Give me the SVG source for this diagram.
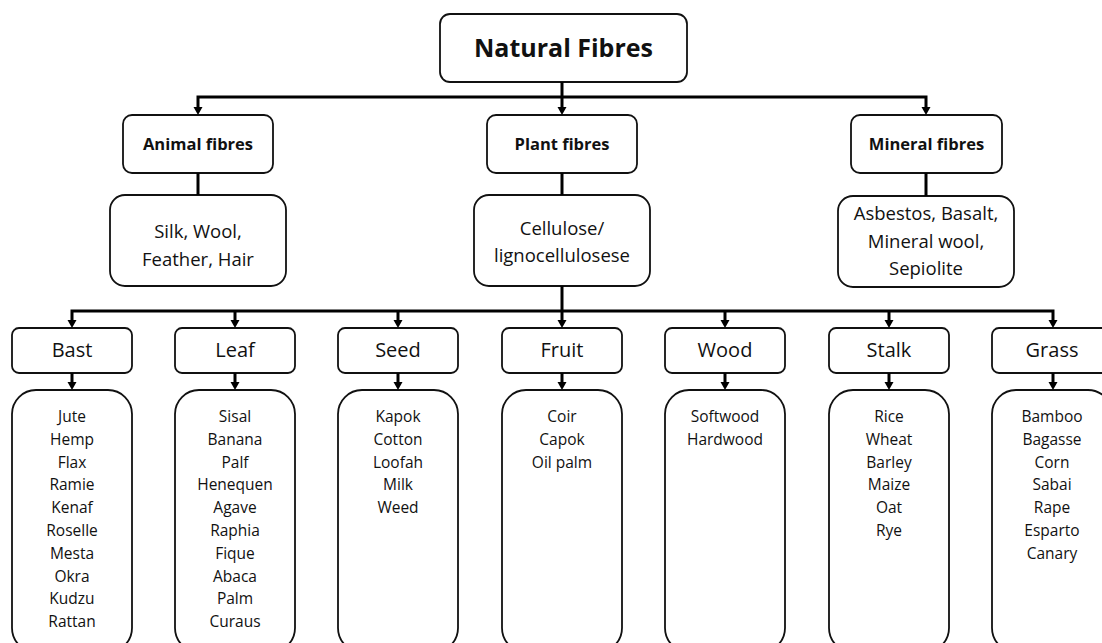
<svg xmlns="http://www.w3.org/2000/svg" width="1102" height="643" viewBox="0 0 1102 643">
  <style>
    .box { fill: #fff; stroke: #111; stroke-width: 1.8; }
    .wire { fill: none; stroke: #000; stroke-width: 3; }
    .arrow { marker-end: url(#head); }
    text { font-family: "Open Sans", "Liberation Sans", sans-serif; fill: #111; text-anchor: middle; }
    .title { font-size: 25px; font-weight: bold; }
    .group { font-size: 16.5px; font-weight: bold; }
    .desc { font-size: 18.5px; }
    .cat { font-size: 20px; }
    .item { font-size: 15.5px; }
  </style>
  <defs>
    <!-- solid triangular head; the path ends at its base, the tip sits 7.5px further on -->
    <marker id="head" markerUnits="userSpaceOnUse" markerWidth="10" markerHeight="10" refX="0.5" refY="5" orient="auto" viewBox="0 0 10 10">
      <path d="M0,0.5 L8,5 L0,9.5 Z" fill="#000"/>
    </marker>
  </defs>

  <!-- root -->
  <g id="natural-fibres">
    <rect class="box" x="440" y="14" width="247" height="68" rx="10"/>
    <text class="title" x="563.5" y="57">Natural Fibres</text>
  </g>

  <!-- second level -->
  <g id="animal-fibres">
    <rect class="box" x="123" y="115" width="150" height="58" rx="9"/>
    <text class="group" x="198" y="150">Animal fibres</text>
  </g>
  <g id="plant-fibres">
    <rect class="box" x="487" y="115" width="150" height="58" rx="9"/>
    <text class="group" x="562" y="150">Plant fibres</text>
  </g>
  <g id="mineral-fibres">
    <rect class="box" x="851" y="115" width="151" height="58" rx="9"/>
    <text class="group" x="926.5" y="150">Mineral fibres</text>
  </g>

  <g id="animal-examples">
    <rect class="box" x="110" y="195" width="176" height="91" rx="15"/>
    <text class="desc" x="198" y="238">Silk, Wool,</text>
    <text class="desc" x="198" y="266">Feather, Hair</text>
  </g>
  <g id="plant-examples">
    <rect class="box" x="474" y="195" width="176" height="91" rx="15"/>
    <text class="desc" x="562" y="235">Cellulose/</text>
    <text class="desc" x="562" y="262">lignocellulosese</text>
  </g>
  <g id="mineral-examples">
    <rect class="box" x="838" y="196" width="176" height="91" rx="15"/>
    <text class="desc" x="926" y="220">Asbestos, Basalt,</text>
    <text class="desc" x="926" y="248">Mineral wool,</text>
    <text class="desc" x="926" y="275">Sepiolite</text>
  </g>

  <!-- plant fibre categories -->
  <g id="bast">
    <rect class="box" x="12" y="328" width="120" height="45" rx="7"/>
    <text class="cat" x="72" y="357">Bast</text>
    <rect class="box" x="12" y="390" width="120" height="262" rx="24"/>
    <text class="item" x="72" y="422">Jute</text>
    <text class="item" x="72" y="445">Hemp</text>
    <text class="item" x="72" y="468">Flax</text>
    <text class="item" x="72" y="490">Ramie</text>
    <text class="item" x="72" y="513">Kenaf</text>
    <text class="item" x="72" y="536">Roselle</text>
    <text class="item" x="72" y="559">Mesta</text>
    <text class="item" x="72" y="582">Okra</text>
    <text class="item" x="72" y="604">Kudzu</text>
    <text class="item" x="72" y="627">Rattan</text>
  </g>
  <g id="leaf">
    <rect class="box" x="175" y="328" width="120" height="45" rx="7"/>
    <text class="cat" x="235" y="357">Leaf</text>
    <rect class="box" x="175" y="390" width="120" height="262" rx="24"/>
    <text class="item" x="235" y="422">Sisal</text>
    <text class="item" x="235" y="445">Banana</text>
    <text class="item" x="235" y="468">Palf</text>
    <text class="item" x="235" y="490">Henequen</text>
    <text class="item" x="235" y="513">Agave</text>
    <text class="item" x="235" y="536">Raphia</text>
    <text class="item" x="235" y="559">Fique</text>
    <text class="item" x="235" y="582">Abaca</text>
    <text class="item" x="235" y="604">Palm</text>
    <text class="item" x="235" y="627">Curaus</text>
  </g>
  <g id="seed">
    <rect class="box" x="338" y="328" width="120" height="45" rx="7"/>
    <text class="cat" x="398" y="357">Seed</text>
    <rect class="box" x="338" y="390" width="120" height="262" rx="24"/>
    <text class="item" x="398" y="422">Kapok</text>
    <text class="item" x="398" y="445">Cotton</text>
    <text class="item" x="398" y="468">Loofah</text>
    <text class="item" x="398" y="490">Milk</text>
    <text class="item" x="398" y="513">Weed</text>
  </g>
  <g id="fruit">
    <rect class="box" x="502" y="328" width="120" height="45" rx="7"/>
    <text class="cat" x="562" y="357">Fruit</text>
    <rect class="box" x="502" y="390" width="120" height="262" rx="24"/>
    <text class="item" x="562" y="422">Coir</text>
    <text class="item" x="562" y="445">Capok</text>
    <text class="item" x="562" y="468">Oil palm</text>
  </g>
  <g id="wood">
    <rect class="box" x="665" y="328" width="120" height="45" rx="7"/>
    <text class="cat" x="725" y="357">Wood</text>
    <rect class="box" x="665" y="390" width="120" height="262" rx="24"/>
    <text class="item" x="725" y="422">Softwood</text>
    <text class="item" x="725" y="445">Hardwood</text>
  </g>
  <g id="stalk">
    <rect class="box" x="829" y="328" width="120" height="45" rx="7"/>
    <text class="cat" x="889" y="357">Stalk</text>
    <rect class="box" x="829" y="390" width="120" height="262" rx="24"/>
    <text class="item" x="889" y="422">Rice</text>
    <text class="item" x="889" y="445">Wheat</text>
    <text class="item" x="889" y="468">Barley</text>
    <text class="item" x="889" y="490">Maize</text>
    <text class="item" x="889" y="513">Oat</text>
    <text class="item" x="889" y="536">Rye</text>
  </g>
  <g id="grass">
    <rect class="box" x="992" y="328" width="120" height="45" rx="7"/>
    <text class="cat" x="1052" y="357">Grass</text>
    <rect class="box" x="992" y="390" width="120" height="262" rx="24"/>
    <text class="item" x="1052" y="422">Bamboo</text>
    <text class="item" x="1052" y="445">Bagasse</text>
    <text class="item" x="1052" y="468">Corn</text>
    <text class="item" x="1052" y="490">Sabai</text>
    <text class="item" x="1052" y="513">Rape</text>
    <text class="item" x="1052" y="536">Esparto</text>
    <text class="item" x="1052" y="559">Canary</text>
  </g>

  <!-- connectors, drawn last so the heads sit on the box outlines -->
  <g id="connectors">
    <path class="wire arrow" d="M562,82 V107.5"/>
    <path class="wire arrow" d="M562,97 H198 V107.5"/>
    <path class="wire arrow" d="M562,97 H926 V107.5"/>
    <path class="wire" d="M198,173 V195"/>
    <path class="wire" d="M562,173 V195"/>
    <path class="wire" d="M926,173 V196"/>
    <path class="wire arrow" d="M562,286 V320.5"/>
    <path class="wire arrow" d="M562,311 H72 V320.5"/>
    <path class="wire arrow" d="M562,311 H1053 V320.5"/>
    <path class="wire arrow" d="M235,311 V320.5"/>
    <path class="wire arrow" d="M398,311 V320.5"/>
    <path class="wire arrow" d="M725,311 V320.5"/>
    <path class="wire arrow" d="M889,311 V320.5"/>
    <path class="wire arrow" d="M72,373 V382.5"/>
    <path class="wire arrow" d="M235,373 V382.5"/>
    <path class="wire arrow" d="M398,373 V382.5"/>
    <path class="wire arrow" d="M562,373 V382.5"/>
    <path class="wire arrow" d="M725,373 V382.5"/>
    <path class="wire arrow" d="M889,373 V382.5"/>
    <path class="wire arrow" d="M1053,373 V382.5"/>
  </g>
</svg>
